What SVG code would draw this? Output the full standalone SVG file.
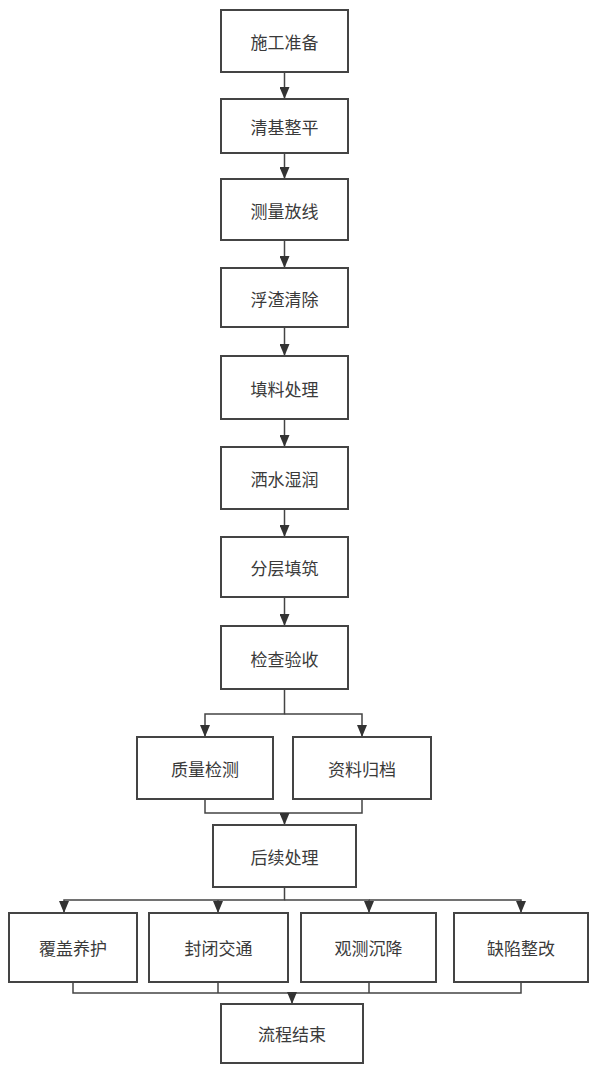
<svg xmlns="http://www.w3.org/2000/svg" width="593" height="1067" viewBox="0 0 593 1067">
<style>
.b{fill:#fff;stroke:#444;stroke-width:2}
.t{font-family:"Noto Sans CJK SC","Noto Sans",sans-serif;font-size:17px;fill:#3a3a3a;text-anchor:middle;dominant-baseline:central}
.c{fill:none;stroke:#444;stroke-width:1.5}
</style>
<defs>
<marker id="a" markerWidth="12" markerHeight="10" refX="12" refY="5" orient="auto" markerUnits="userSpaceOnUse" viewBox="0 0 12 10">
<path d="M0,0 L12,5 L0,10 Z" fill="#333"/>
</marker>
</defs>
<rect width="593" height="1067" fill="#fff"/>
<g id="connectors">
<path class="c" d="M284.5,72 V99" marker-end="url(#a)"/>
<path class="c" d="M284.5,153 V179" marker-end="url(#a)"/>
<path class="c" d="M284.5,240 V268" marker-end="url(#a)"/>
<path class="c" d="M284.5,327 V356" marker-end="url(#a)"/>
<path class="c" d="M284.5,419 V447" marker-end="url(#a)"/>
<path class="c" d="M284.5,509 V537" marker-end="url(#a)"/>
<path class="c" d="M284.5,597 V626" marker-end="url(#a)"/>
<path class="c" d="M284.5,689 V714 H205 V737" marker-end="url(#a)"/>
<path class="c" d="M284.5,714 H362 V737" marker-end="url(#a)"/>
<path class="c" d="M205,799 V813 H362 V799"/>
<path class="c" d="M284.5,813 V825" marker-end="url(#a)"/>
<path class="c" d="M284.5,887 V900 H64 V913" marker-end="url(#a)"/>
<path class="c" d="M218,900 V913" marker-end="url(#a)"/>
<path class="c" d="M284.5,900 H369 V913" marker-end="url(#a)"/>
<path class="c" d="M369,900 H521 V913" marker-end="url(#a)"/>
<path class="c" d="M73,982 V993 H521 V982"/>
<path class="c" d="M218,982 V993"/>
<path class="c" d="M369,982 V993"/>
<path class="c" d="M292,993 V1004" marker-end="url(#a)"/>
</g>
<g id="n1"><rect class="b" x="221" y="10" width="127" height="62"/><text class="t" x="284.5" y="41">施工准备</text></g>
<g id="n2"><rect class="b" x="221" y="99" width="127" height="54"/><text class="t" x="284.5" y="126">清基整平</text></g>
<g id="n3"><rect class="b" x="221" y="179" width="127" height="61"/><text class="t" x="284.5" y="210">测量放线</text></g>
<g id="n4"><rect class="b" x="221" y="268" width="127" height="59"/><text class="t" x="284.5" y="298">浮渣清除</text></g>
<g id="n5"><rect class="b" x="221" y="356" width="127" height="63"/><text class="t" x="284.5" y="388">填料处理</text></g>
<g id="n6"><rect class="b" x="221" y="447" width="127" height="62"/><text class="t" x="284.5" y="478">洒水湿润</text></g>
<g id="n7"><rect class="b" x="221" y="537" width="127" height="60"/><text class="t" x="284.5" y="567">分层填筑</text></g>
<g id="n8"><rect class="b" x="221" y="626" width="127" height="63"/><text class="t" x="284.5" y="658">检查验收</text></g>
<g id="n9"><rect class="b" x="137" y="737" width="136" height="62"/><text class="t" x="205" y="768">质量检测</text></g>
<g id="n10"><rect class="b" x="293" y="737" width="138" height="62"/><text class="t" x="362" y="768">资料归档</text></g>
<g id="n11"><rect class="b" x="213" y="825" width="143" height="62"/><text class="t" x="284.5" y="856">后续处理</text></g>
<g id="n12"><rect class="b" x="9" y="913" width="128" height="69"/><text class="t" x="73" y="947">覆盖养护</text></g>
<g id="n13"><rect class="b" x="149" y="913" width="139" height="69"/><text class="t" x="218.5" y="947">封闭交通</text></g>
<g id="n14"><rect class="b" x="301" y="913" width="135" height="69"/><text class="t" x="368.5" y="947">观测沉降</text></g>
<g id="n15"><rect class="b" x="454" y="913" width="134" height="69"/><text class="t" x="521" y="947">缺陷整改</text></g>
<g id="n16"><rect class="b" x="221" y="1004" width="142" height="59"/><text class="t" x="292" y="1033">流程结束</text></g>
</svg>
